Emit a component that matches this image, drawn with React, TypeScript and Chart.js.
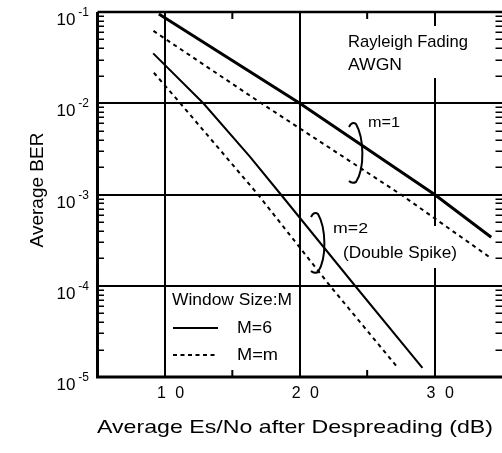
import React, { useEffect, useRef } from "react";
import { Chart, registerables } from "chart.js";

Chart.register(...registerables);

const FONT = '"Liberation Sans", Arial, Helvetica, sans-serif';

// Series (x: Es/No dB, y: BER)
const m1M6X = [9.55, 20, 30, 34.2];
const m1M6Y = [0.095, 0.01, 0.001, 0.00034];
const m1MmX = [9.15, 17.15, 27.5, 34.2];
const m1MmY = [0.062, 0.01, 0.001, 0.0002];
const m2M6X = [9.13, 12.85, 16.3, 18.6, 24.1, 29.1];
const m2M6Y = [0.0352, 0.01, 0.0026, 0.001, 0.0001, 0.0000126];
const m2MmX = [9.18, 11.14, 16.9, 22.24, 27.3];
const m2MmY = [0.0216, 0.01, 0.001, 0.0001, 0.0000125];

// Axes
const xMin = 5;
const xMax = 35;
const xTickValues = [10, 20, 30];
const xTickLabels = ["1 0", "2 0", "3 0"];
const xMinorTicks = [15, 25];
const yMin = 1e-5;
const yMax = 1e-1;
const yTickValues = [1e-1, 1e-2, 1e-3, 1e-4, 1e-5];
const yTickExponents = ["-1", "-2", "-3", "-4", "-5"];
const yMinorMultipliers = [2, 3, 4, 5, 6, 7, 8, 9];
const yDecades = [1e-5, 1e-4, 1e-3, 1e-2];

function pts(xs: number[], ys: number[]) {
  return xs.map((x, i) => ({ x, y: ys[i] }));
}

function fitText(
  ctx: CanvasRenderingContext2D,
  text: string,
  x: number,
  y: number,
  size: number,
  width?: number,
  align: "left" | "center" = "left"
) {
  ctx.font = `${size}px ${FONT}`;
  const w = ctx.measureText(text).width;
  const sx = width ? width / w : 1;
  ctx.save();
  ctx.translate(x, y);
  ctx.scale(sx, 1);
  ctx.textAlign = "left";
  ctx.textBaseline = "alphabetic";
  ctx.fillStyle = "#000";
  ctx.fillText(text, align === "center" ? -w / 2 : 0, 0);
  ctx.restore();
}

function bracket(ctx: CanvasRenderingContext2D, x: number, top: number, bottom: number, bulge: number) {
  const h = bottom - top;
  ctx.beginPath();
  ctx.moveTo(x - 2, top + 4);
  ctx.quadraticCurveTo(x + 1, top - 2, x + 5, top + 1);
  ctx.bezierCurveTo(x + bulge + 2, top + h * 0.25, x + bulge + 3, top + h * 0.75, x + 5, bottom - 1);
  ctx.quadraticCurveTo(x + 1, bottom + 1, x - 2, bottom - 2);
  ctx.stroke();
}

const decor = {
  id: "decor",
  beforeDatasetsDraw(chart: any) {
    const { ctx, chartArea: a, scales } = chart;
    const x = scales.x;
    const y = scales.y;
    ctx.save();
    // white label boxes covering grid lines
    ctx.fillStyle = "#fff";
    ctx.fillRect(340, 26, 140, 52);
    ctx.fillRect(330, 226, 132, 42);

    ctx.strokeStyle = "#000";
    // minor y ticks (inward, both sides)
    ctx.lineWidth = 1.5;
    for (const d of yDecades) {
      for (const k of yMinorMultipliers) {
        const py = Math.round(y.getPixelForValue(k * d)) + 0.25;
        ctx.beginPath();
        ctx.moveTo(a.left, py);
        ctx.lineTo(a.left + 6.5, py);
        ctx.moveTo(a.right, py);
        ctx.lineTo(a.right - 6.5, py);
        ctx.stroke();
      }
    }
    // minor x ticks
    ctx.lineWidth = 2;
    for (const v of xMinorTicks) {
      const px = x.getPixelForValue(v);
      ctx.beginPath();
      ctx.moveTo(px, a.bottom);
      ctx.lineTo(px, a.bottom - 7);
      ctx.moveTo(px, a.top);
      ctx.lineTo(px, a.top + 7);
      ctx.stroke();
    }
    ctx.restore();
  },
  afterDatasetsDraw(chart: any) {
    const { ctx, chartArea: a, scales } = chart;
    const x = scales.x;
    const y = scales.y;
    ctx.save();
    ctx.strokeStyle = "#000";
    ctx.fillStyle = "#000";
    // frame
    ctx.lineWidth = 3;
    ctx.beginPath();
    ctx.moveTo(a.left, a.top);
    ctx.lineTo(a.left, a.bottom);
    ctx.lineTo(a.right, a.bottom);
    ctx.stroke();
    ctx.lineWidth = 2.5;
    ctx.beginPath();
    ctx.moveTo(a.left, a.top);
    ctx.lineTo(a.right, a.top);
    ctx.stroke();

    // y tick labels 10^-n
    yTickValues.forEach((v, i) => {
      const py = y.getPixelForValue(v);
      ctx.font = `12px ${FONT}`;
      ctx.textAlign = "right";
      ctx.textBaseline = "alphabetic";
      const ew = ctx.measureText(yTickExponents[i]).width;
      ctx.fillText(yTickExponents[i], 89, py + 4);
      ctx.font = `17px ${FONT}`;
      ctx.fillText("10", 89 - ew - 3, py + 13);
    });

    // x tick labels
    ctx.font = `16px ${FONT}`;
    ctx.textAlign = "left";
    (ctx as any).letterSpacing = "2.5px";
    xTickValues.forEach((v, i) => {
      const px = x.getPixelForValue(v);
      ctx.fillText(xTickLabels[i], px - 8, 398);
    });
    (ctx as any).letterSpacing = "0px";

    // axis titles
    ctx.save();
    ctx.translate(43, 190);
    ctx.rotate(-Math.PI / 2);
    ctx.font = `19px ${FONT}`;
    ctx.textAlign = "center";
    ctx.fillText("Average BER", 0, 0);
    ctx.restore();
    fitText(ctx, "Average Es/No after Despreading (dB)", 295, 433, 19, 396, "center");

    // annotations
    fitText(ctx, "Rayleigh Fading", 348, 47, 17, 120);
    fitText(ctx, "AWGN", 348, 70, 17, 54);
    fitText(ctx, "m=1", 368, 126.5, 15, 32);
    fitText(ctx, "m=2", 333, 233, 15, 35);
    fitText(ctx, "(Double Spike)", 343, 258, 17, 114);

    ctx.lineWidth = 2;
    ctx.setLineDash([]);
    bracket(ctx, 351, 123, 183, 11);
    bracket(ctx, 313, 213, 273, 11);

    // legend
    fitText(ctx, "Window Size:M", 172, 305, 16, 120);
    ctx.lineWidth = 2;
    ctx.beginPath();
    ctx.moveTo(173, 328);
    ctx.lineTo(218, 328);
    ctx.stroke();
    fitText(ctx, "M=6", 237, 333, 16, 35);
    ctx.setLineDash([4, 3.5]);
    ctx.beginPath();
    ctx.moveTo(173, 355);
    ctx.lineTo(218, 355);
    ctx.stroke();
    ctx.setLineDash([]);
    fitText(ctx, "M=m", 237, 360, 16, 41);
    ctx.restore();
  },
};

export default function App() {
  const ref = useRef<HTMLCanvasElement | null>(null);
  useEffect(() => {
    const canvas = ref.current;
    if (!canvas) return;
    const base = { borderColor: "#000", pointRadius: 0, tension: 0, fill: false };
    const chart = new Chart(canvas, {
      type: "line",
      data: {
        datasets: [
          { ...base, label: "m=1, M=6", data: pts(m1M6X, m1M6Y), borderWidth: 3 },
          { ...base, label: "m=1, M=m", data: pts(m1MmX, m1MmY), borderWidth: 2, borderDash: [4, 4] },
          { ...base, label: "m=2, M=6", data: pts(m2M6X, m2M6Y), borderWidth: 2 },
          { ...base, label: "m=2, M=m", data: pts(m2MmX, m2MmY), borderWidth: 2, borderDash: [4, 4] },
        ],
      },
      options: {
        animation: false,
        responsive: false,
        devicePixelRatio: 1,
        layout: { padding: { top: 12, left: 0, right: 0, bottom: 0 } },
        plugins: { legend: { display: false }, tooltip: { enabled: false }, title: { display: false } },
        scales: {
          x: {
            type: "linear",
            min: xMin,
            max: xMax,
            afterBuildTicks: (s: any) => {
              s.ticks = xTickValues.map((v) => ({ value: v }));
            },
            afterFit: (s: any) => {
              s.height = 76;
            },
            grid: { color: "#000", lineWidth: 2, drawTicks: false },
            border: { display: false },
            ticks: { display: false },
          },
          y: {
            type: "logarithmic",
            min: yMin,
            max: yMax,
            afterBuildTicks: (s: any) => {
              s.ticks = yTickValues.map((v) => ({ value: v }));
            },
            afterFit: (s: any) => {
              s.width = 97.5;
            },
            grid: { color: "#000", lineWidth: 2, drawTicks: false },
            border: { display: false },
            ticks: { display: false },
          },
        },
      },
      plugins: [decor],
    } as any);
    return () => chart.destroy();
  }, []);
  return (
    <div style={{ position: "absolute", left: 0, top: 0, width: 502, height: 453, background: "#fff" }}>
      <canvas ref={ref} width={502} height={453} style={{ display: "block" }} />
    </div>
  );
}
